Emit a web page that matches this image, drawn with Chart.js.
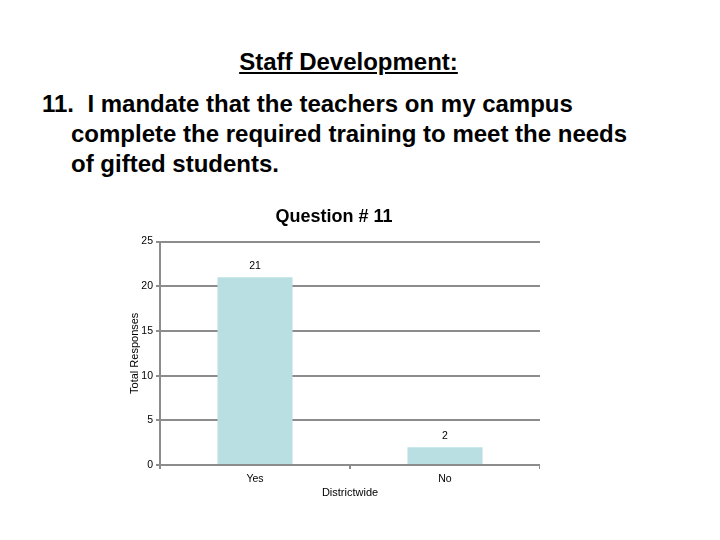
<!DOCTYPE html>
<html>
<head>
<meta charset="utf-8">
<script src="https://cdn.jsdelivr.net/npm/chart.js@4"></script>
<style>
  html, body { margin: 0; padding: 0; background: #fff; width: 720px; height: 540px; overflow: hidden; }
  .t { position: absolute; font-family: "Liberation Sans", Arial, sans-serif; font-weight: bold; color: #000; white-space: pre; font-size: 24px; line-height: 30px; }
  #h1 { left: 0; width: 697px; top: 47px; text-align: center; text-decoration: underline; }
  #q1 { left: 42px; top: 89px; }
  #q2 { left: 71px; top: 119px; }
  #q3 { left: 71px; top: 149px; }
  #wrap { position: absolute; left: 96px; top: 200px; width: 444px; height: 300px; }
</style>
</head>
<body>
<div class="t" id="h1">Staff Development:</div>
<div class="t" id="q1">11.  I mandate that the teachers on my campus</div>
<div class="t" id="q2">complete the required training to meet the needs</div>
<div class="t" id="q3">of gifted students.</div>
<div id="wrap"><canvas id="c"></canvas></div>
<script>
const categories = ["Yes", "No"];
const responses = [21, 2];
const yTicks = [0, 5, 10, 15, 20, 25];
const chartTitle = "Question # 11";
const xTitle = "Districtwide";
const yTitle = "Total Responses";

const FONT = "'Liberation Sans', Arial, sans-serif";

const valueLabels = {
  id: "valueLabels",
  afterDatasetsDraw(chart) {
    const ctx = chart.ctx;
    const meta = chart.getDatasetMeta(0);
    ctx.save();
    ctx.font = "10.5px " + FONT;
    ctx.fillStyle = "#000";
    ctx.textAlign = "center";
    ctx.textBaseline = "middle";
    meta.data.forEach((bar, i) => {
      ctx.fillText(String(chart.data.datasets[0].data[i]), bar.x, bar.y - 11);
    });
    ctx.restore();
  }
};

new Chart(document.getElementById("c"), {
  type: "bar",
  data: {
    labels: categories,
    datasets: [{
      data: responses,
      backgroundColor: "#b9dfe3",
      borderWidth: 0,
      categoryPercentage: 1,
      barPercentage: 0.395
    }]
  },
  options: {
    responsive: true,
    maintainAspectRatio: false,
    animation: false,
    layout: { padding: { left: 32, right: 0, top: 0, bottom: 0 } },
    plugins: {
      legend: { display: false },
      tooltip: { enabled: false },
      title: {
        display: true,
        text: chartTitle,
        color: "#000",
        font: { family: FONT, size: 18, weight: "bold" },
        padding: { top: 6, bottom: 14 }
      }
    },
    scales: {
      x: {
        grid: { display: true, drawOnChartArea: false, drawTicks: true, tickLength: 4, color: "#8c8c8c", lineWidth: 2, offset: true },
        border: { display: true, color: "#8c8c8c", width: 2 },
        ticks: { color: "#000", font: { family: FONT, size: 10.5 }, padding: 4 },
        title: { display: true, text: xTitle, color: "#000", font: { family: FONT, size: 11 }, padding: { top: 0, bottom: 0 } },
        afterFit(scale) { scale.height = 35; }
      },
      y: {
        min: 0, max: 25,
        afterBuildTicks(scale) { scale.ticks = yTicks.map(v => ({ value: v })); },
        grid: { color: "#8c8c8c", lineWidth: 2, tickLength: 4, drawTicks: true },
        border: { display: true, color: "#8c8c8c", width: 2 },
        ticks: { color: "#000", font: { family: FONT, size: 10.5 }, padding: 3 },
        title: { display: true, text: yTitle, color: "#000", font: { family: FONT, size: 11 }, padding: { top: 0, bottom: 0 } },
        afterFit(scale) { scale.width = 32; }
      }
    }
  },
  plugins: [valueLabels]
});
</script>
</body>
</html>
